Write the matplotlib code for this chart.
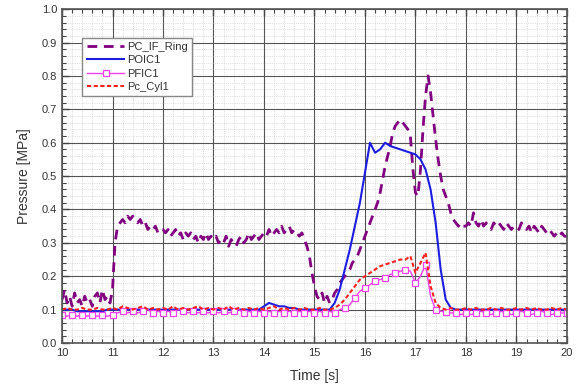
import numpy as np
import matplotlib
matplotlib.use('Agg')
import matplotlib.pyplot as plt
from matplotlib.ticker import MultipleLocator

plt.rcParams['font.family'] = ['Liberation Sans', 'DejaVu Sans']

# sample times (s)
t_ring = np.round(np.arange(10.0, 20.001, 0.05), 2)  # PC_IF_Ring sampled every 0.05 s
t_fast = np.round(np.arange(10.0, 20.001, 0.1), 2)   # other channels every 0.1 s

# PC_IF_Ring [MPa], one row per second
pc_if_ring = [
    0.13, 0.16, 0.12, 0.14, 0.11, 0.15, 0.12, 0.13, 0.11, 0.14, 0.12, 0.13, 0.11, 0.14, 0.15, 0.12, 0.16, 0.13, 0.14, 0.12,
    0.16, 0.30, 0.35, 0.36, 0.37, 0.36, 0.38, 0.37, 0.38, 0.37, 0.36, 0.37, 0.35, 0.36, 0.34, 0.35, 0.34, 0.35, 0.33, 0.34,
    0.34, 0.33, 0.34, 0.32, 0.33, 0.34, 0.32, 0.33, 0.31, 0.33, 0.32, 0.33, 0.31, 0.32, 0.30, 0.32, 0.31, 0.33, 0.31, 0.32,
    0.31, 0.32, 0.30, 0.31, 0.30, 0.32, 0.29, 0.31, 0.30, 0.29, 0.31, 0.32, 0.30, 0.31, 0.33, 0.31, 0.32, 0.33, 0.31, 0.32,
    0.33, 0.32, 0.34, 0.32, 0.33, 0.34, 0.33, 0.35, 0.33, 0.34, 0.35, 0.33, 0.34, 0.33, 0.32, 0.33, 0.31, 0.29, 0.26, 0.21,
    0.17, 0.14, 0.13, 0.15, 0.12, 0.14, 0.12, 0.13, 0.15, 0.16, 0.18, 0.19, 0.20, 0.21, 0.22, 0.24, 0.25, 0.26, 0.28, 0.30,
    0.32, 0.34, 0.36, 0.38, 0.40, 0.42, 0.45, 0.49, 0.53, 0.56, 0.59, 0.63, 0.65, 0.66, 0.67, 0.66, 0.65, 0.64, 0.62, 0.52,
    0.45, 0.44, 0.52, 0.64, 0.74, 0.80, 0.75, 0.68, 0.61, 0.55, 0.50, 0.46, 0.44, 0.42, 0.39, 0.37, 0.36, 0.35, 0.36, 0.35,
    0.35, 0.36, 0.35, 0.39, 0.36, 0.35, 0.37, 0.35, 0.36, 0.35, 0.34, 0.36, 0.35, 0.36, 0.35, 0.34, 0.36, 0.35, 0.34, 0.35,
    0.35, 0.34, 0.36, 0.35, 0.34, 0.35, 0.33, 0.35, 0.34, 0.33, 0.35, 0.34, 0.33, 0.34, 0.33, 0.32, 0.33, 0.32, 0.33, 0.32,
    0.32,
]

# POIC1 [MPa]
poic1 = [
    0.10, 0.10, 0.10, 0.095, 0.095, 0.095, 0.095, 0.095, 0.095, 0.10,
    0.10, 0.10, 0.10, 0.10, 0.10, 0.10, 0.10, 0.10, 0.10, 0.10,
    0.10, 0.10, 0.10, 0.10, 0.10, 0.10, 0.10, 0.10, 0.10, 0.10,
    0.10, 0.10, 0.10, 0.10, 0.10, 0.10, 0.10, 0.10, 0.10, 0.10,
    0.11, 0.12, 0.115, 0.11, 0.11, 0.105, 0.105, 0.10, 0.10, 0.10,
    0.10, 0.10, 0.10, 0.10, 0.12, 0.16, 0.22, 0.28, 0.35, 0.42,
    0.51, 0.60, 0.57, 0.58, 0.60, 0.59, 0.585, 0.58, 0.575, 0.57,
    0.565, 0.55, 0.52, 0.46, 0.36, 0.22, 0.13, 0.105, 0.10, 0.10,
    0.10, 0.10, 0.10, 0.10, 0.10, 0.10, 0.10, 0.10, 0.10, 0.10,
    0.10, 0.10, 0.10, 0.10, 0.10, 0.10, 0.10, 0.10, 0.10, 0.10,
    0.10,
]

# PFIC1 [MPa]
pfic1 = [
    0.085, 0.08, 0.085, 0.08, 0.085, 0.08, 0.085, 0.08, 0.085, 0.08,
    0.085, 0.09, 0.095, 0.09, 0.095, 0.09, 0.095, 0.10, 0.09, 0.095,
    0.09, 0.095, 0.09, 0.10, 0.095, 0.09, 0.095, 0.09, 0.095, 0.09,
    0.095, 0.09, 0.095, 0.09, 0.095, 0.10, 0.09, 0.095, 0.09, 0.095,
    0.09, 0.095, 0.09, 0.095, 0.09, 0.095, 0.09, 0.095, 0.09, 0.095,
    0.09, 0.095, 0.09, 0.095, 0.09, 0.10, 0.105, 0.115, 0.135, 0.155,
    0.165, 0.175, 0.185, 0.19, 0.195, 0.205, 0.21, 0.215, 0.22, 0.215,
    0.18, 0.20, 0.235, 0.14, 0.10, 0.095, 0.093, 0.09, 0.09, 0.085,
    0.09, 0.085, 0.09, 0.095, 0.09, 0.085, 0.09, 0.095, 0.09, 0.085,
    0.09, 0.095, 0.09, 0.085, 0.09, 0.095, 0.09, 0.085, 0.09, 0.09,
    0.09,
]

# Pc_Cyl1 [MPa]
pc_cyl1 = [
    0.10, 0.105, 0.10, 0.10, 0.105, 0.10, 0.10, 0.105, 0.10, 0.10,
    0.105, 0.10, 0.11, 0.105, 0.10, 0.105, 0.11, 0.10, 0.105, 0.10,
    0.105, 0.10, 0.11, 0.10, 0.105, 0.10, 0.105, 0.11, 0.10, 0.105,
    0.10, 0.105, 0.10, 0.11, 0.10, 0.105, 0.10, 0.105, 0.10, 0.105,
    0.10, 0.105, 0.11, 0.10, 0.105, 0.10, 0.105, 0.10, 0.105, 0.10,
    0.10, 0.105, 0.10, 0.10, 0.105, 0.115, 0.13, 0.15, 0.17, 0.19,
    0.20, 0.21, 0.22, 0.23, 0.235, 0.24, 0.245, 0.25, 0.25, 0.26,
    0.21, 0.24, 0.27, 0.17, 0.12, 0.105, 0.10, 0.105, 0.10, 0.10,
    0.105, 0.10, 0.105, 0.10, 0.10, 0.105, 0.10, 0.105, 0.10, 0.10,
    0.105, 0.10, 0.105, 0.10, 0.105, 0.10, 0.10, 0.105, 0.10, 0.105,
    0.10,
]

fig = plt.figure(figsize=(5.77, 3.90), dpi=100)
ax = fig.add_axes([0.1075, 0.1205, 0.875, 0.856])

ln, = ax.plot(t_ring, pc_if_ring, color='#800080', lw=2.0, label='PC_IF_Ring')
ln.set_dashes((3.5, 2.4))
ax.plot(t_fast, poic1, color='#1e1ee0', lw=1.5, label='POIC1')
ax.plot(t_fast, pfic1, color='#f040f0', lw=1.0, marker='s', ms=5,
        mfc='white', mec='#f040f0', mew=0.9, markevery=2, label='PFIC1')
ln2, = ax.plot(t_fast, pc_cyl1, color='#ff2020', lw=1.5, label='Pc_Cyl1')
ln2.set_dashes((2, 1.2))

ax.set_xlim(10, 20)
ax.set_ylim(0, 1.0)
ax.xaxis.set_major_locator(MultipleLocator(1))
ax.xaxis.set_minor_locator(MultipleLocator(0.2))
ax.yaxis.set_major_locator(MultipleLocator(0.1))
ax.yaxis.set_minor_locator(MultipleLocator(0.02))
ax.yaxis.set_major_formatter(matplotlib.ticker.FormatStrFormatter('%.1f'))

ax.grid(which='major', color='#555555', lw=0.8, ls='-')
ax.grid(which='minor', color='#c4c4c4', lw=0.5, ls=':')
ax.set_axisbelow(True)

ax.tick_params(which='both', direction='in', top=True, right=True, colors='#444444',
               labelcolor='#333333', labelsize=8)
ax.tick_params(which='major', length=5, width=1)
ax.tick_params(which='minor', length=3, width=0.8)
for s in ax.spines.values():
    s.set_color('#555555')
    s.set_linewidth(1.2)

ax.set_xlabel('Time [s]', fontsize=10, color='#333333', labelpad=8)
ax.set_ylabel('Pressure [MPa]', fontsize=10, color='#333333', labelpad=8)

leg = ax.legend(loc='upper left', bbox_to_anchor=(0.04, 0.915), fontsize=8,
                fancybox=False, framealpha=1, edgecolor='#888888',
                handlelength=3.4, handletextpad=0.2, borderpad=0.4,
                labelspacing=0.3, borderaxespad=0)
leg.get_frame().set_linewidth(1.0)
for txt in leg.get_texts():
    txt.set_color('#333333')

fig.savefig('out.png', dpi=100)
